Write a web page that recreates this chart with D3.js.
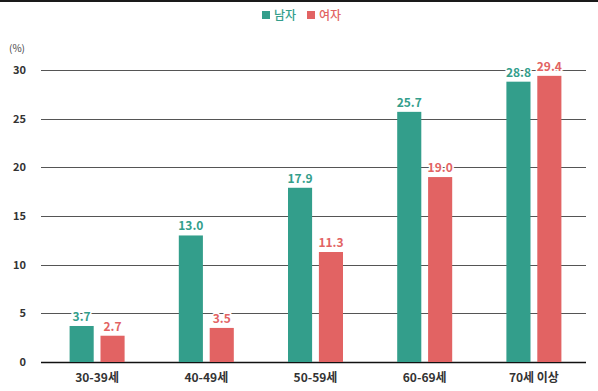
<!DOCTYPE html>
<html>
<head>
<meta charset="utf-8">
<script src="https://cdn.jsdelivr.net/npm/d3@7"></script>
<style>
  body { margin: 0; background: #fff; }
  svg { display: block; font-family: "Noto Sans CJK KR", "Noto Sans", sans-serif; }
</style>
</head>
<body>
<div id="chart"></div>
<script>
// chart data
const categories = ['30-39세', '40-49세', '50-59세', '60-69세', '70세 이상'];
const seriesNames = ['남자', '여자'];
const male = [3.7, 13.0, 17.9, 25.7, 28.8];
const female = [2.7, 3.5, 11.3, 19.0, 29.4];
const yTicks = [0, 5, 10, 15, 20, 25, 30];

const colors = { '남자': '#339e8b', '여자': '#e26363' };

const width = 598, height = 391;
const margin = { top: 70, right: 12, bottom: 29, left: 41 };

const svg = d3.select('#chart').append('svg')
  .attr('width', width)
  .attr('height', height);

// dark rule at the very top
svg.append('rect')
  .attr('x', 0).attr('y', 0)
  .attr('width', width).attr('height', 2)
  .attr('fill', '#1a1a1a');

const x = d3.scaleBand()
  .domain(categories)
  .range([42.5, 588.5]);

const xInner = d3.scaleBand()
  .domain(seriesNames)
  .range([0, 55])
  .paddingInner(0.22);

const y = d3.scaleLinear()
  .domain([0, 30])
  .range([height - margin.bottom, margin.top]);

// gridlines
svg.append('g')
  .selectAll('line')
  .data(yTicks)
  .join('line')
  .attr('x1', margin.left)
  .attr('x2', width - margin.right)
  .attr('y1', d => Math.round(y(d)) + 0.5)
  .attr('y2', d => Math.round(y(d)) + 0.5)
  .attr('stroke', d => d === 0 ? '#111' : '#555')
  .attr('stroke-width', d => d === 0 ? 1.5 : 1);

// y tick labels
svg.append('g')
  .selectAll('text')
  .data(yTicks)
  .join('text')
  .attr('x', 26)
  .attr('y', d => y(d))
  .attr('dy', '0.35em')
  .attr('text-anchor', 'end')
  .attr('font-size', 11)
  .attr('font-weight', 700)
  .attr('fill', '#333')
  .text(d => d);

svg.append('text')
  .attr('x', 17).attr('y', 52)
  .attr('text-anchor', 'middle')
  .attr('font-size', 10)
  .attr('fill', '#444')
  .text('(%)');

// x labels
svg.append('g')
  .selectAll('text')
  .data(categories)
  .join('text')
  .attr('x', d => x(d) + x.bandwidth() / 2)
  .attr('y', 382)
  .attr('text-anchor', 'middle')
  .attr('font-size', 12)
  .attr('font-weight', 700)
  .attr('fill', '#333')
  .text(d => d);

// bars
const rows = categories.map((c, i) => ({ cat: c, values: [
  { name: '남자', value: male[i] },
  { name: '여자', value: female[i] }
] }));

const groups = svg.append('g')
  .selectAll('g')
  .data(rows)
  .join('g')
  .attr('transform', d => `translate(${x(d.cat) + x.bandwidth() / 2 - 27.5},0)`);

groups.selectAll('rect')
  .data(d => d.values)
  .join('rect')
  .attr('x', d => xInner(d.name))
  .attr('y', d => y(d.value))
  .attr('width', xInner.bandwidth())
  .attr('height', d => y(0) - y(d.value))
  .attr('fill', d => colors[d.name]);

groups.selectAll('text')
  .data(d => d.values)
  .join('text')
  .attr('x', d => xInner(d.name) + xInner.bandwidth() / 2)
  .attr('y', d => y(d.value) - 5)
  .attr('text-anchor', 'middle')
  .attr('font-size', 12)
  .attr('font-weight', 700)
  .attr('fill', d => colors[d.name])
  .attr('stroke', '#fff')
  .attr('stroke-width', 3)
  .attr('paint-order', 'stroke')
  .text(d => d.value.toFixed(1));

// legend
const legend = svg.append('g').attr('transform', 'translate(262,0)');
const items = legend.selectAll('g')
  .data(seriesNames)
  .join('g')
  .attr('transform', (d, i) => `translate(${i * 45},0)`);

items.append('rect')
  .attr('x', 0).attr('y', 11)
  .attr('width', 8).attr('height', 8)
  .attr('fill', d => colors[d]);

items.append('text')
  .attr('x', 12).attr('y', 19.5)
  .attr('font-size', 12)
  .attr('font-weight', 500)
  .attr('fill', d => colors[d])
  .text(d => d);
</script>
</body>
</html>
